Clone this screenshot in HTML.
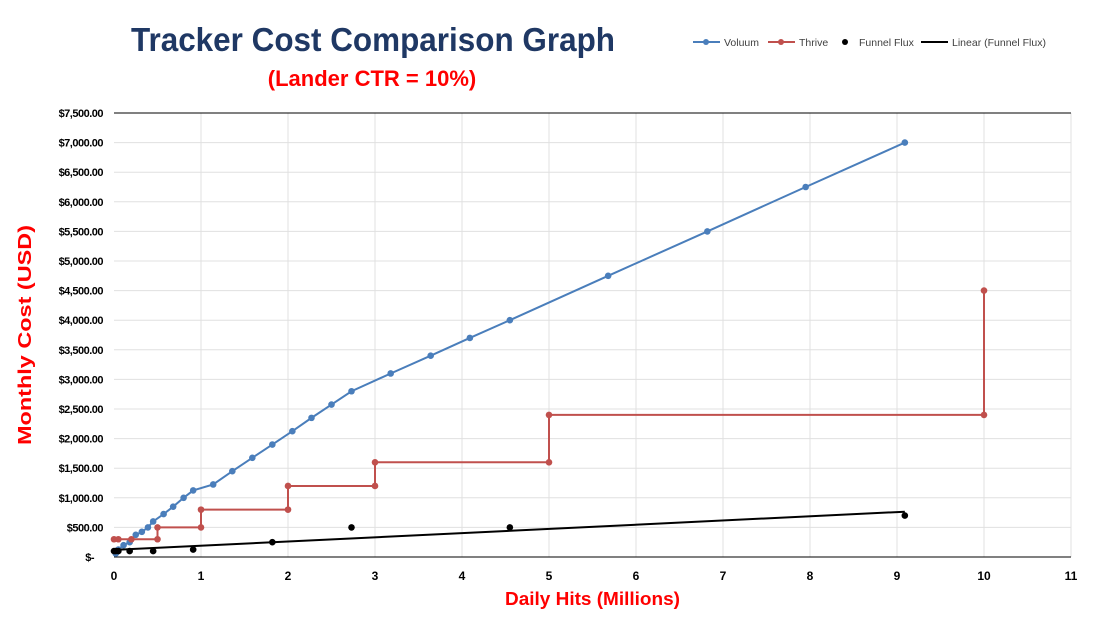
<!DOCTYPE html>
<html><head><meta charset="utf-8"><style>
body{margin:0;background:#fff;width:1106px;height:614px;overflow:hidden;font-family:"Liberation Sans",sans-serif}
</style></head><body>
<svg id="s" width="1106" height="614" xmlns="http://www.w3.org/2000/svg" font-family="Liberation Sans, sans-serif">
<text x="131" y="51" textLength="484" lengthAdjust="spacingAndGlyphs" font-size="33" font-weight="bold" fill="#1f3864">Tracker Cost Comparison Graph</text>
<text x="372" y="86" text-anchor="middle" font-size="22" font-weight="bold" fill="#ff0000">(Lander CTR = 10%)</text>
<g font-size="10.5" fill="#404040">
<line x1="693" y1="42" x2="720" y2="42" stroke="#4a7ebb" stroke-width="2"/><circle cx="706" cy="42" r="3" fill="#4a7ebb"/><text x="724" y="46">Voluum</text>
<line x1="768" y1="42" x2="795" y2="42" stroke="#c0504d" stroke-width="2"/><circle cx="781" cy="42" r="3" fill="#c0504d"/><text x="799" y="46">Thrive</text>
<circle cx="845" cy="42" r="3" fill="#000"/><text x="859" y="46">Funnel Flux</text>
<line x1="921" y1="42" x2="948" y2="42" stroke="#000" stroke-width="2"/><text x="952" y="46">Linear (Funnel Flux)</text>
</g>
<g id="g"></g>
<text x="505" y="605" textLength="175" lengthAdjust="spacingAndGlyphs" font-size="18" font-weight="bold" fill="#ff0000">Daily Hits (Millions)</text>
<text transform="translate(31,445) rotate(-90)" textLength="220" lengthAdjust="spacingAndGlyphs" font-size="18" font-weight="bold" fill="#ff0000">Monthly Cost (USD)</text>
</svg>
<script>
const L=114,R=1071,T=113,B=557;
const X=v=>L+v*(R-L)/11, Y=v=>B-v*(B-T)/7500;
let h='';
for(let i=1;i<=11;i++)h+=`<line x1="${X(i)}" y1="${T}" x2="${X(i)}" y2="${B}" stroke="#e0e0e0"/>`;
for(let i=1;i<15;i++)h+=`<line x1="${L}" y1="${Y(i*500)}" x2="${R}" y2="${Y(i*500)}" stroke="#e0e0e0"/>`;
h+=`<line x1="${L}" y1="${T}" x2="${R}" y2="${T}" stroke="#000"/><line x1="${L}" y1="${B}" x2="${R}" y2="${B}" stroke="#000"/>`;
for(let i=0;i<=11;i++)h+=`<text x="${X(i)}" y="580" text-anchor="middle" font-size="12" font-weight="bold">${i}</text>`;
for(let i=0;i<=15;i++){let v=i*500;let t=i==0?'$-':'$'+v.toLocaleString('en-US')+'.00';h+=`<text x="${i==0?94:103}" y="${Y(v)+4}" text-anchor="end" font-size="11" font-weight="bold" letter-spacing="-0.5">${t}</text>`;}
const vo=[[0.02,60],[0.05,125],[0.11,200],[0.18,250],[0.25,375],[0.32,425],[0.39,500],[0.45,600],[0.57,725],[0.68,850],[0.8,1000],[0.91,1125],[1.14,1225],[1.36,1450],[1.59,1675],[1.82,1900],[2.05,2125],[2.27,2350],[2.5,2575],[2.73,2800],[3.18,3100],[3.64,3400],[4.09,3700],[4.55,4000],[5.68,4750],[6.82,5500],[7.95,6250],[9.09,7000]];
const th=[[0,300],[0.05,300],[0.2,300],[0.5,300],[0.5,500],[1,500],[1,800],[2,800],[2,1200],[3,1200],[3,1600],[5,1600],[5,2400],[10,2400],[10,4500]];
const ff=[[0,100],[0.02,100],[0.05,100],[0.18,100],[0.45,100],[0.91,125],[1.82,250],[2.73,500],[4.55,500],[9.09,700]];
const pl=(a,c)=>{h+=`<polyline fill="none" stroke="${c}" stroke-width="2" points="${a.map(p=>X(p[0])+','+Y(p[1])).join(' ')}"/>`;a.forEach(p=>h+=`<circle cx="${X(p[0])}" cy="${Y(p[1])}" r="3.3" fill="${c}"/>`);};
pl(vo,'#4a7ebb');pl(th,'#c0504d');
h+=`<line x1="${X(0)}" y1="${Y(120)}" x2="${X(9.09)}" y2="${Y(765)}" stroke="#000" stroke-width="2"/>`;
ff.forEach(p=>h+=`<circle cx="${X(p[0])}" cy="${Y(p[1])}" r="3.3" fill="#000"/>`);
document.getElementById('g').innerHTML=h;
</script>
</body></html>
